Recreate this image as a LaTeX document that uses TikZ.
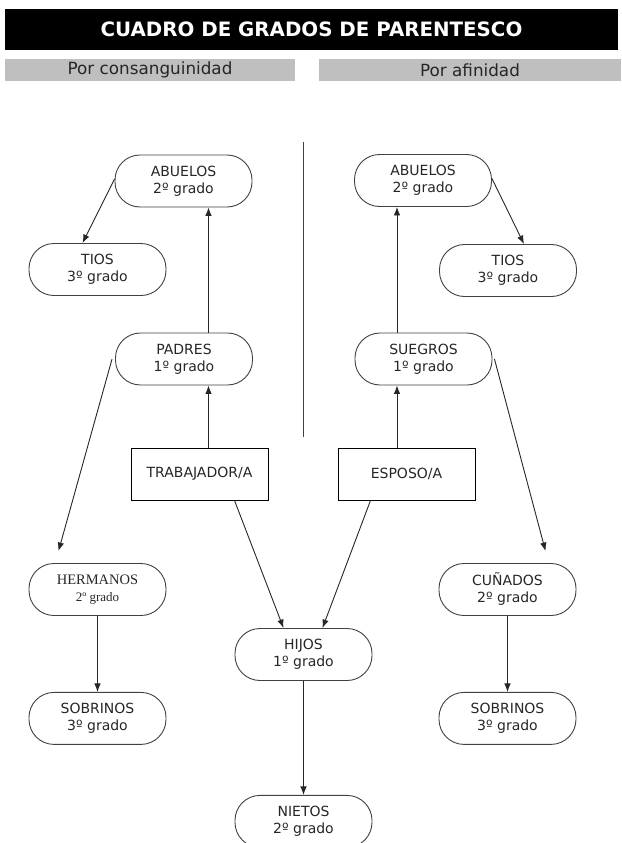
\documentclass[tikz,border=0pt]{standalone}
\usepackage{fontspec}
\setmainfont{DejaVu Sans}
\newfontfamily\timesfont{Liberation Serif}
\usetikzlibrary{arrows.meta, positioning}
\tikzstyle{grado} = [rectangle, rounded corners=25pt, minimum width=137pt, minimum
height=52pt, inner sep=0pt, align=center, draw=black!75, line width=0.9pt,
text=black!85, font=\fontsize{14}{17}\selectfont]
\tikzstyle{persona} = [rectangle, minimum width=137pt, minimum
height=52pt, inner sep=0pt, align=center, draw=black, line width=0.9pt,
text=black!85, font=\fontsize{14}{17}\selectfont]
\tikzstyle{seccion} = [rectangle, fill=black!25, minimum height=22pt, inner sep=0pt,
text=black!85, font=\fontsize{16.8}{18}\selectfont]
\tikzstyle{arrow} = [line width=0.9pt, draw=black!85, -{Latex[length=8.5pt,width=6.5pt]}]

\begin{document}
\begin{tikzpicture}[x=1pt, y=1pt]
  \useasboundingbox (0,0) rectangle (621,-843);
  \node (titulo) [fill=black, minimum width=613pt, minimum height=41pt, inner sep=0pt, text=white, font=\bfseries\fontsize{19.8}{22}\selectfont] at (311.5,-29.5) {CUADRO DE GRADOS DE PARENTESCO};
  \node (consang) [seccion, minimum width=290pt] at (150,-70) {Por consanguinidad};
  \node (afin) [seccion, minimum width=302pt] at (470,-70) {Por afinidad};
  \draw [black!75, line width=0.9pt] (303,-142) -- (303,-437);

  % consanguinidad
  \node (abuc) [grado] at (183.5,-181) {ABUELOS \\ 2º grado};
  \node (tioc) [grado] at (97.5,-269.5) {TIOS \\ 3º grado};
  \node (pad) [grado] at (184,-359) {PADRES \\ 1º grado};
  \node (trab) [persona] at (199.5,-474) {TRABAJADOR/A};
  \node (herm) [grado, font=\timesfont\fontsize{14.5}{17}\selectfont] at (97.5,-589.5) {HERMANOS \\ {\fontsize{13}{15}\selectfont 2º grado}};
  \node (sobc) [grado, below=76pt of herm] {SOBRINOS \\ 3º grado};

  % afinidad
  \node (abua) [grado] at (423,-180.5) {ABUELOS \\ 2º grado};
  \node (tioa) [grado] at (508,-270.5) {TIOS \\ 3º grado};
  \node (sue) [grado] at (423.5,-359) {SUEGROS \\ 1º grado};
  \node (esp) [persona] at (406.5,-474) {ESPOSO/A};
  \node (cun) [grado] at (507.5,-589.5) {CUÑADOS \\ 2º grado};
  \node (soba) [grado, below=76pt of cun] {SOBRINOS \\ 3º grado};

  % descendientes
  \node (hijos) [grado] at (303.5,-654.5) {HIJOS \\ 1º grado};
  \node (nietos) [grado, below=114pt of hijos] {NIETOS \\ 2º grado};

  \draw [arrow] ([xshift=9pt]trab.north) -- ([xshift=9pt]trab.north |- pad.south);
  \draw [arrow] ([xshift=24.5pt]pad.north) -- ([xshift=24.5pt]pad.north |- abuc.south);
  \draw [arrow] ([yshift=2pt]abuc.west) -- ([xshift=-15pt]tioc.north);
  \draw [arrow] ([xshift=-3pt]pad.west) -- ([xshift=-39pt,yshift=12pt]herm.north);
  \draw [arrow] (herm) -- (sobc);
  \draw [arrow] ([xshift=-9.5pt]esp.north) -- ([xshift=-9.5pt]esp.north |- sue.south);
  \draw [arrow] ([xshift=-26.5pt]sue.north) -- ([xshift=-26.5pt]sue.north |- abua.south);
  \draw [arrow] ([yshift=2pt]abua.east) -- ([xshift=16pt]tioa.north);
  \draw [arrow] ([xshift=2pt]sue.east) -- ([xshift=38pt,yshift=12pt]cun.north);
  \draw [arrow] (cun) -- (soba);
  \draw [arrow] ([xshift=35pt]trab.south) -- ([xshift=-20pt]hijos.north);
  \draw [arrow] ([xshift=-36pt]esp.south) -- ([xshift=19pt]hijos.north);
  \draw [arrow] (hijos) -- (nietos);
\end{tikzpicture}
\end{document}
